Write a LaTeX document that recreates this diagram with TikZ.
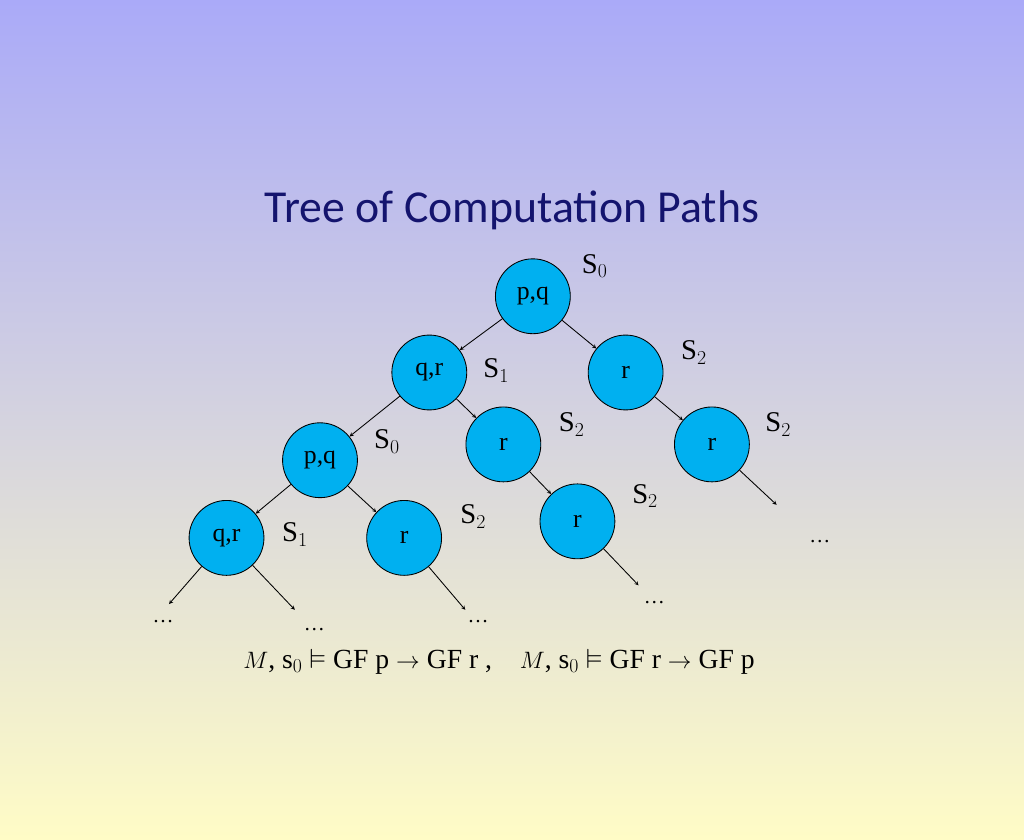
\documentclass[tikz,border=0pt]{standalone}
\usepackage{amssymb}
\usepackage{fontspec}
\setmainfont{Liberation Serif}
\newfontfamily\titlefont{Carlito}
\usetikzlibrary{positioning}
\definecolor{nodeblue}{RGB}{0,176,240}
\definecolor{titleblue}{RGB}{20,20,110}
\definecolor{bgtop}{RGB}{170,170,248}
\definecolor{bgbot}{RGB}{255,252,198}
\tikzset{
  st/.style={circle, draw=black, fill=nodeblue, minimum size=2.76cm, inner sep=0pt, font=\fontsize{27}{30}\selectfont},
  lbl/.style={font=\fontsize{30}{32}\selectfont},
  dots/.style={font=\fontsize{22}{24}\selectfont},
}
\begin{document}
\begin{tikzpicture}[x=0.0265cm, y=-0.0265cm, >=stealth, every path/.style={line width=0.9pt}]
      \shade[shading angle=45, top color=bgtop, bottom color=bgbot] (-200,-200) rectangle (1224,968);
      \useasboundingbox (0,0) rectangle (1024,768);
      \node[font=\titlefont\fontsize{48}{52}\selectfont, text=titleblue] (title) at (512,92) {Tree of Computation Paths};

      \node[st] (a) at (541,212) {p,q};
      \node[st] (b) at (397,318) {q,r};
      \node[st] (c) at (670,318) {r};
      \node[st] (d) at (245,440) {p,q};
      \node[st] (e) at (500,418) {r};
      \node[st] (f) at (790,418) {r};
      \node[st] (g) at (115,548) {q,r};
      \node[st] (h) at (362,548) {r};
      \node[st] (i) at (603,525) {r};

      \coordinate (fe) at (880,502);
      \coordinate (ge1) at (35,640);
      \coordinate (ge2) at (210,648);
      \coordinate (he) at (447,648);
      \coordinate (ie) at (688,614);

      \path[->] (a) edge (b) edge (c)
                (b) edge (d) edge (e)
                (c) edge (f)
                (d) edge (g) edge (h)
                (e) edge (i)
                (f) edge (fe)
                (g) edge (ge1) edge (ge2)
                (h) edge (he)
                (i) edge (ie);

      \node[lbl] (l1) at (627,170) {S$_0$};
      \node[lbl] (l2) at (765,290) {S$_2$};
      \node[lbl] (l3) at (490,315) {S$_1$};
      \node[lbl] (l4) at (595,390) {S$_2$};
      \node[lbl] (l5) at (882,390) {S$_2$};
      \node[lbl] (l6) at (338,414) {S$_0$};
      \node[lbl] (l7) at (697,490) {S$_2$};
      \node[lbl] (l8) at (458,518) {S$_2$};
      \node[lbl] (l9) at (210,543) {S$_1$};

      \node[dots] (d1) at (940,553) {\dots};
      \node[dots] (d2) at (27,665) {\dots};
      \node[dots] (d3) at (237,676) {\dots};
      \node[dots] (d4) at (465,665) {\dots};
      \node[dots] (d5) at (710,638) {\dots};

      \node[font=\fontsize{29}{32}\selectfont] (formula) at (494,720)
        {$M$, s$_0$ $\vDash$ GF p $\rightarrow$ GF r ,\quad $M$, s$_0$ $\vDash$ GF r $\rightarrow$ GF p};
\end{tikzpicture}
\end{document}
